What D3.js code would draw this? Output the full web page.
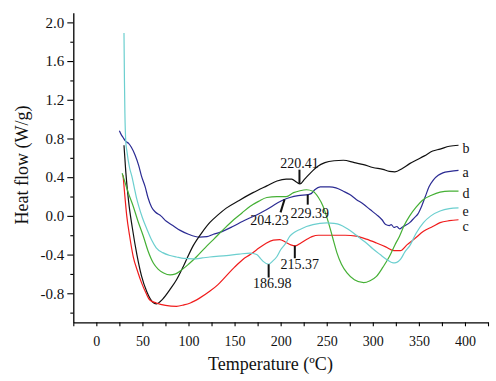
<!DOCTYPE html>
<html>
<head>
<meta charset="utf-8">
<script src="https://cdn.jsdelivr.net/npm/d3@7"></script>
<style>
  html, body { margin: 0; padding: 0; background: #fff; }
  svg, svg text { font-family: "Liberation Serif", "DejaVu Serif", serif; }
</style>
</head>
<body>
<div id="chart"></div>
<script>
// DSC heat flow curves, temperature (ºC) vs heat flow (W/g)
const seriesA = [[25,0.88],[27,0.84],[29,0.81],[32,0.77],[35,0.75],[38,0.71],[42,0.63],[46,0.52],[49,0.41],[53,0.3],[56,0.19],[60,0.09],[64,0.04],[70,0.0],[76,-0.056],[83,-0.1],[91,-0.15],[100,-0.19],[112,-0.22],[120,-0.215],[127,-0.19],[134,-0.17],[148,-0.11],[159,-0.055],[167,-0.02],[176,0.02],[185,0.065],[196,0.13],[204,0.17],[210,0.19],[219,0.21],[230,0.22],[233,0.23],[237,0.27],[243,0.3],[253,0.3],[260,0.29],[268,0.255],[275,0.22],[282,0.17],[290,0.12],[297,0.065],[304,0.013],[310,-0.04],[314,-0.09],[318,-0.1],[320,-0.09],[323,-0.12],[326,-0.11],[329,-0.135],[333,-0.11],[337,-0.09],[340,-0.07],[345,-0.02],[349,0.02],[353,0.1],[357,0.2],[361,0.3],[366,0.375],[371,0.42],[376,0.445],[384,0.46],[393,0.47]];
const seriesB = [[30,0.73],[32,0.45],[35,0.15],[39,-0.12],[44,-0.4],[49,-0.62],[55,-0.79],[61,-0.89],[65,-0.91],[72,-0.86],[80,-0.76],[87,-0.66],[95,-0.51],[105,-0.31],[114,-0.18],[123,-0.07],[132,0.01],[141,0.08],[155,0.16],[170,0.24],[185,0.31],[196,0.36],[206,0.38],[212,0.38],[217,0.35],[221,0.33],[226,0.38],[232,0.44],[240,0.51],[248,0.55],[258,0.57],[268,0.575],[280,0.55],[290,0.53],[300,0.5],[311,0.48],[318,0.46],[324,0.455],[332,0.49],[340,0.54],[348,0.58],[356,0.62],[365,0.67],[373,0.69],[383,0.72],[393,0.73]];
const seriesC = [[29,0.42],[31,0.2],[33,0.0],[36,-0.2],[40,-0.42],[45,-0.58],[49,-0.69],[54,-0.8],[58,-0.87],[65,-0.9],[75,-0.925],[87,-0.935],[95,-0.92],[102,-0.9],[112,-0.85],[123,-0.78],[132,-0.71],[141,-0.62],[150,-0.53],[159,-0.45],[167,-0.4],[174,-0.35],[183,-0.29],[192,-0.25],[199,-0.245],[205,-0.27],[211,-0.3],[216,-0.31],[222,-0.28],[228,-0.245],[234,-0.215],[241,-0.2],[257,-0.2],[270,-0.2],[282,-0.21],[293,-0.24],[304,-0.28],[314,-0.32],[323,-0.36],[330,-0.36],[337,-0.3],[345,-0.24],[355,-0.16],[365,-0.11],[373,-0.07],[383,-0.05],[393,-0.04]];
const seriesD = [[28,0.44],[31,0.35],[35,0.23],[40,0.1],[45,-0.05],[51,-0.21],[56,-0.36],[62,-0.49],[67,-0.55],[73,-0.59],[80,-0.61],[86,-0.6],[91,-0.57],[100,-0.5],[109,-0.42],[118,-0.33],[127,-0.245],[138,-0.14],[149,-0.04],[158,0.03],[167,0.1],[176,0.15],[185,0.19],[196,0.2],[206,0.2],[214,0.24],[221,0.26],[228,0.27],[235,0.255],[241,0.19],[246,0.1],[250,-0.01],[254,-0.14],[258,-0.28],[261,-0.38],[266,-0.5],[272,-0.59],[280,-0.66],[290,-0.69],[297,-0.67],[304,-0.625],[311,-0.53],[318,-0.42],[324,-0.3],[329,-0.21],[334,-0.1],[340,0.0],[347,0.09],[355,0.17],[363,0.21],[373,0.245],[383,0.255],[393,0.255]];
const seriesE = [[30,1.89],[30.5,1.4],[31,1.06],[32,0.76],[33,0.68],[36,0.5],[38.5,0.41],[41,0.3],[44,0.17],[46,0.1],[50,-0.02],[55,-0.14],[60,-0.25],[65,-0.33],[72,-0.38],[80,-0.41],[87,-0.425],[95,-0.44],[105,-0.445],[115,-0.435],[123,-0.425],[141,-0.41],[155,-0.395],[167,-0.385],[174,-0.4],[178,-0.44],[181,-0.47],[187,-0.5],[191,-0.47],[196,-0.42],[200,-0.35],[205,-0.29],[210,-0.21],[215,-0.17],[221,-0.14],[228,-0.11],[235,-0.09],[250,-0.073],[258,-0.078],[264,-0.09],[272,-0.13],[279,-0.176],[286,-0.23],[293,-0.28],[300,-0.34],[308,-0.4],[315,-0.45],[322,-0.486],[326,-0.48],[330,-0.45],[335,-0.37],[340,-0.31],[347,-0.18],[355,-0.07],[363,0.0],[373,0.05],[383,0.075],[393,0.083]];

const seriesNames = ["a", "b", "c", "d", "e"];
const xTicks = [0, 50, 100, 150, 200, 250, 300, 350, 400];
const yTicks = [-0.8, -0.4, 0.0, 0.4, 0.8, 1.2, 1.6, 2.0];

// peak annotations: series, temperature label
const peakSeries = ["b", "a", "a", "c", "e"];
const peakTemps = [220.41, 229.39, 204.23, 215.37, 186.98];

const W = 496, H = 381;
const margin = { left: 73.3, right: 8, top: 12.7, bottom: 58.7 };

const colors = { a: "#2b2b93", b: "#111111", c: "#f01c1c", d: "#45b035", e: "#6ccfcf" };
const data = { a: seriesA, b: seriesB, c: seriesC, d: seriesD, e: seriesE };

const x = d3.scaleLinear().domain([-25, 425]).range([margin.left, W - margin.right]);
const y = d3.scaleLinear().domain([-1.1, 2.1]).range([H - margin.bottom, margin.top]);

const svg = d3.select("#chart").append("svg")
  .attr("width", W).attr("height", H);

// Axes: major ticks with labels, minor ticks in between
const xMinor = d3.range(-25, 426, 50);
const yMinor = d3.range(-1.0, 1.81, 0.4);
const yFormat = v => d3.format(".1f")(v).replace("\u2212", "-");

svg.append("g")
  .attr("transform", `translate(0,${y.range()[0]})`)
  .call(d3.axisBottom(x).tickValues(xMinor).tickSize(4).tickSizeOuter(0).tickFormat(""))
  .call(g => g.select(".domain").remove());

svg.append("g")
  .attr("transform", `translate(0,${y.range()[0]})`)
  .call(d3.axisBottom(x).tickValues(xTicks).tickSize(4).tickSizeOuter(0).tickPadding(10)
    .tickFormat(d3.format("d")))
  .call(g => g.selectAll("text").attr("font-size", "14px").attr("fill", "#111"));

svg.append("g")
  .attr("transform", `translate(${x.range()[0]},0)`)
  .call(d3.axisLeft(y).tickValues(yMinor).tickSize(3).tickSizeOuter(0).tickFormat(""))
  .call(g => g.select(".domain").remove());

svg.append("g")
  .attr("transform", `translate(${x.range()[0]},0)`)
  .call(d3.axisLeft(y).tickValues(yTicks).tickSize(6).tickSizeOuter(0).tickPadding(3)
    .tickFormat(yFormat))
  .call(g => g.selectAll("text").attr("font-size", "15px").attr("fill", "#111"));

svg.selectAll("g").attr("font-family", null);
svg.selectAll(".domain").attr("stroke-width", 1.3);
svg.selectAll(".tick line").attr("stroke-width", 1.1);

// Axis titles
svg.append("text")
  .attr("x", 270.5).attr("y", 370)
  .attr("text-anchor", "middle")
  .attr("font-size", "18px").attr("fill", "#111")
  .text("Temperature (ºC)");

svg.append("text")
  .attr("transform", "translate(28,165) rotate(-90)")
  .attr("text-anchor", "middle")
  .attr("font-size", "18px").attr("fill", "#111")
  .text("Heat flow (W/g)");

// Curves
const line = d3.line()
  .x(d => x(d[0]))
  .y(d => y(d[1]))
  .curve(d3.curveMonotoneX);

seriesNames.forEach(name => {
  svg.append("path")
    .datum(data[name])
    .attr("fill", "none")
    .attr("stroke", colors[name])
    .attr("stroke-width", 1.2)
    .attr("d", line);
});

// Curve letters at the right ends
const letterShift = { a: 2, b: 3, c: 7, d: 2, e: 3.5 };
seriesNames.forEach(name => {
  const last = data[name][data[name].length - 1];
  svg.append("text")
    .attr("x", x(last[0]) + 4)
    .attr("y", y(last[1]) + letterShift[name])
    .attr("dy", "0.32em")
    .attr("font-size", "14px").attr("fill", "#111")
    .text(name);
});

// value on a series at a given temperature (linear between read points)
function valueAt(name, t) {
  const pts = data[name];
  const i = d3.bisector(d => d[0]).left(pts, t);
  const p0 = pts[Math.max(0, i - 1)], p1 = pts[Math.min(pts.length - 1, i)];
  if (p1[0] === p0[0]) return p0[1];
  return p0[1] + (p1[1] - p0[1]) * (t - p0[0]) / (p1[0] - p0[0]);
}

// Peak labels: leader from curve plus text (pixel offsets of the label layout)
const labelLayout = [
  { lx: 0, ly: -14, tx: 0, ty: -16 },   // 220.41 above
  { lx: 0, ly: 10, tx: 2, ty: 23 },     // 229.39 below
  { lx: -4, ly: 13, tx: -15, ty: 26 },  // 204.23 below-left, slanted
  { lx: 0, ly: 12.5, tx: 5, ty: 23.5 }, // 215.37 below
  { lx: 0, ly: 13.3, tx: 3.5, ty: 24 }  // 186.98 below
];

peakTemps.forEach((t, i) => {
  const name = peakSeries[i];
  const px = x(t), py = y(valueAt(name, t));
  const L = labelLayout[i];
  svg.append("line")
    .attr("x1", px).attr("y1", py)
    .attr("x2", px + L.lx).attr("y2", py + L.ly)
    .attr("stroke", "#111").attr("stroke-width", 2);
  svg.append("text")
    .attr("x", px + L.tx).attr("y", py + L.ty)
    .attr("text-anchor", "middle")
    .attr("font-size", "14px").attr("fill", "#111")
    .text(d3.format(".2f")(t));
});
</script>
</body>
</html>
